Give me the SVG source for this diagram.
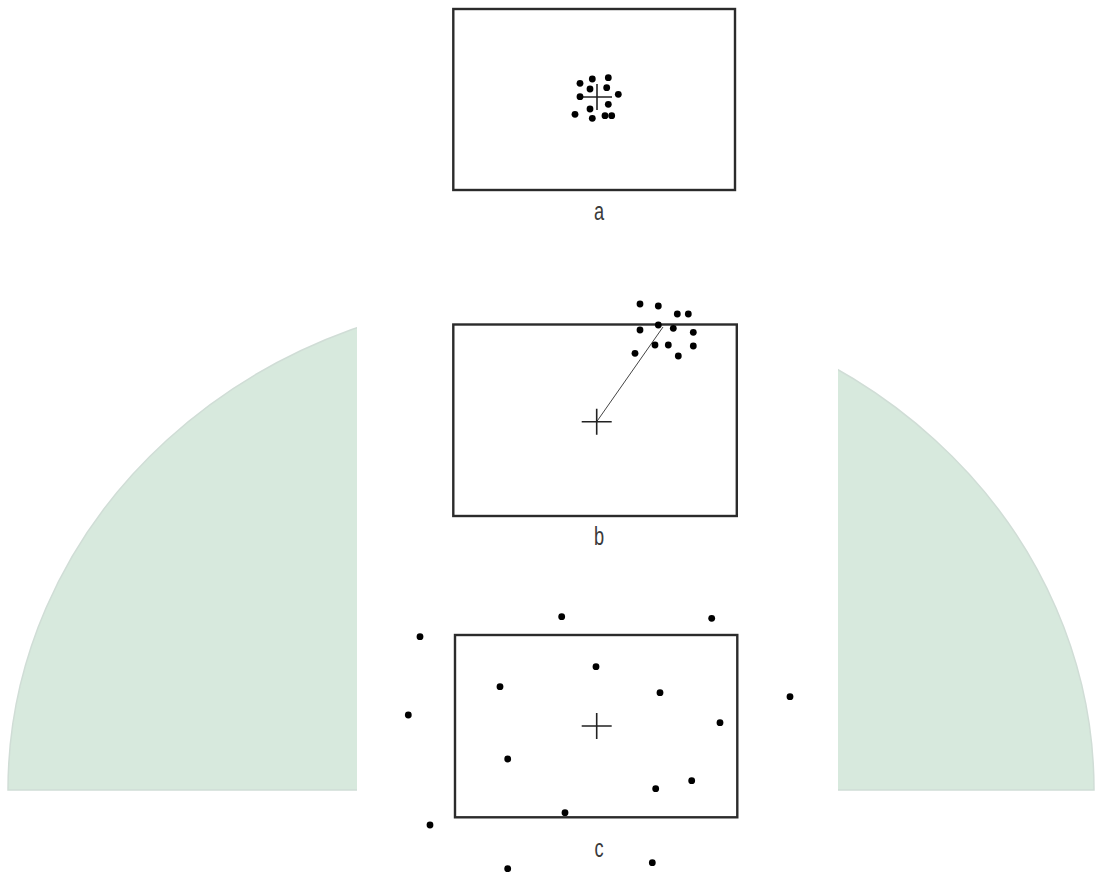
<svg xmlns="http://www.w3.org/2000/svg" width="1104" height="880" viewBox="0 0 1104 880">
<style>
.frame{fill:none;stroke:#2b2b2b;stroke-width:2.4}
.cross{stroke:#222;stroke-width:1.6;fill:none}
.dot circle{fill:#000;r:3.4px}
.lbl{font-family:"Liberation Sans",Arial,sans-serif;font-size:26px;fill:#3a3a3a;text-anchor:middle}
.link{stroke:#444;stroke-width:1;fill:none}
</style>
<defs>
<g id="crossMark"><path class="cross" d="M-15 0H15M0 -13V13"/></g>
</defs>
<rect width="1104" height="880" fill="#fff"/>
<g id="background">
<path d="M8 790 A543 495 0 0 1 1094 790 Z" fill="#d7e9dd" stroke="#d0ddd6" stroke-width="1.5"/>
<rect x="357" y="0" width="481" height="880" fill="#fff"/>
</g>
<g id="panel-a">
<rect class="frame" x="453.3" y="9" width="281.7" height="181"/>
<use href="#crossMark" x="597" y="97"/>
<g class="dot">
<circle cx="580" cy="83.3" r="3.4"/><circle cx="592.3" cy="79" r="3.4"/><circle cx="608.3" cy="77.7" r="3.4"/>
<circle cx="590" cy="89" r="3.4"/><circle cx="606.7" cy="87.7" r="3.4"/><circle cx="580" cy="96.7" r="3.4"/>
<circle cx="618.3" cy="94.3" r="3.4"/><circle cx="608.3" cy="104.3" r="3.4"/><circle cx="590" cy="109" r="3.4"/>
<circle cx="575" cy="114.3" r="3.4"/><circle cx="592.3" cy="118.3" r="3.4"/><circle cx="605" cy="115.7" r="3.4"/>
<circle cx="611.7" cy="115.7" r="3.4"/>
</g>
<text class="lbl" transform="translate(599 219.5) scale(0.7 1)">a</text>
</g>
<g id="connectors">
<line class="link" x1="596.7" y1="421.7" x2="663" y2="327"/>
</g>
<g id="panel-b">
<rect class="frame" x="453.3" y="324.5" width="283.5" height="191.5"/>
<use href="#crossMark" x="596.7" y="421.7"/>
<g class="dot">
<circle cx="640" cy="304" r="3.4"/><circle cx="658.3" cy="306" r="3.4"/><circle cx="677.3" cy="314" r="3.4"/>
<circle cx="688.3" cy="314" r="3.4"/><circle cx="640" cy="330" r="3.4"/><circle cx="658.3" cy="325" r="3.4"/>
<circle cx="673.3" cy="328.3" r="3.4"/><circle cx="693.3" cy="332.3" r="3.4"/><circle cx="655" cy="345" r="3.4"/>
<circle cx="668.3" cy="345" r="3.4"/><circle cx="693.3" cy="346" r="3.4"/><circle cx="635" cy="353.3" r="3.4"/>
<circle cx="678.3" cy="356" r="3.4"/>
</g>
<text class="lbl" transform="translate(599 545) scale(0.7 1)">b</text>
</g>
<g id="panel-c">
<rect class="frame" x="455" y="635" width="282.3" height="182.3"/>
<use href="#crossMark" x="596.7" y="726"/>
<g class="dot">
<circle cx="561.7" cy="616.7" r="3.4"/><circle cx="711.7" cy="618.3" r="3.4"/><circle cx="420" cy="636.7" r="3.4"/>
<circle cx="596" cy="666.7" r="3.4"/><circle cx="500" cy="686.7" r="3.4"/><circle cx="660" cy="692.7" r="3.4"/>
<circle cx="790" cy="696.7" r="3.4"/><circle cx="408.3" cy="715" r="3.4"/><circle cx="720" cy="722.7" r="3.4"/>
<circle cx="507.7" cy="759" r="3.4"/><circle cx="691.7" cy="780.7" r="3.4"/><circle cx="655.7" cy="788.7" r="3.4"/>
<circle cx="565" cy="812.7" r="3.8"/><circle cx="430" cy="825" r="3.4"/><circle cx="652.3" cy="862.7" r="3.4"/>
<circle cx="507.7" cy="868.7" r="3.4"/>
</g>
<text class="lbl" transform="translate(599 857) scale(0.7 1)">c</text>
</g>
</svg>
